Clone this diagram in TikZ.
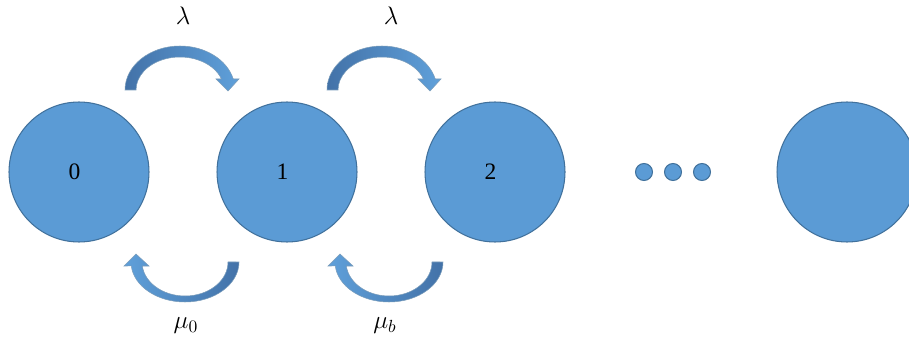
\documentclass[tikz,border=0pt]{standalone}
\usepackage{amsmath}
\usepackage{fontspec}
\setmainfont{Liberation Serif}
\usepackage{xcolor}
\usetikzlibrary{calc}

\definecolor{statefill}{HTML}{5B9BD5}
\definecolor{stateline}{HTML}{41719C}
\definecolor{arrowdark}{HTML}{4372A8}
\definecolor{arrowlight}{HTML}{5FA0DA}

% curved arrow over the gap (birth), origin at middle of its foot
\newcommand{\birtharrow}[1]{%
  \shade[birthshade, shift={(#1)}] (-55,0)
    arc[start angle=180, end angle=14.48, x radius=55, y radius=44]
    -- (59,11) -- (48,-1) -- (36,11) -- (41.5,11)
    arc[start angle=19.47, end angle=180, x radius=44, y radius=33] -- cycle;}
% curved arrow under the gap (death), origin at middle of its top
\newcommand{\deatharrow}[1]{%
  \shade[deathshade, shift={(#1)}] (54,0)
    arc[start angle=0, end angle=-174.3, x radius=54, y radius=40]
    -- (-61,-4) -- (-49,8) -- (-36,-4) -- (-42.7,-4)
    arc[start angle=-173.24, end angle=0, x radius=43, y radius=34] -- cycle;}

\begin{document}
\begin{tikzpicture}[x=0.02cm, y=0.02cm,
    state/.style={circle, draw=stateline, fill=statefill, line width=0.6pt,
      minimum size=2.8cm, inner sep=0pt, font=\fontsize{13.4}{16}\selectfont},
    dot/.style={circle, draw=stateline, fill=statefill, line width=0.6pt,
      minimum size=0.34cm, inner sep=0pt},
    birthshade/.style={left color=arrowdark, right color=arrowlight,
      draw=stateline!70, line width=0.3pt},
    deathshade/.style={left color=arrowlight, right color=arrowdark,
      draw=stateline!70, line width=0.3pt},
    rate/.style={font=\fontsize{14}{16}\selectfont}]
    \useasboundingbox (0,0) rectangle (909,345);

    % states
    \node[state] (s0) at (79,173) {\hspace*{-5pt}0};
    \node[state] (s1) at (287,173) {\hspace*{-5pt}1};
    \node[state] (s2) at (495,173) {\hspace*{-5pt}2};
    \node[state] (sn) at (847,173) {};

    % dots
    \node[dot] (d1) at (644,173) {};
    \node[dot] (d2) at (673,173) {};
    \node[dot] (d3) at (702,173) {};

    % arrivals
    \birtharrow{$($(s0)!0.5!(s1)$)+(-3,82)$}
    \birtharrow{$($(s1)!0.5!(s2)$)+(-9,82)$}
    \node[rate] (l1) at ($(s0)!0.5!(s1)+(0,156)$) {$\lambda$};
    \node[rate] (l2) at ($(s1)!0.5!(s2)+(0,156)$) {$\lambda$};

    % services
    \deatharrow{$($(s0)!0.5!(s1)$)+(2,-90)$}
    \deatharrow{$($(s1)!0.5!(s2)$)+(-2,-90)$}
    \node[rate] (m0) at ($(s0)!0.5!(s1)+(3,-154)$) {$\mu_0$};
    \node[rate] (mb) at ($(s1)!0.5!(s2)+(-6,-154)$) {$\mu_b$};
\end{tikzpicture}
\end{document}
